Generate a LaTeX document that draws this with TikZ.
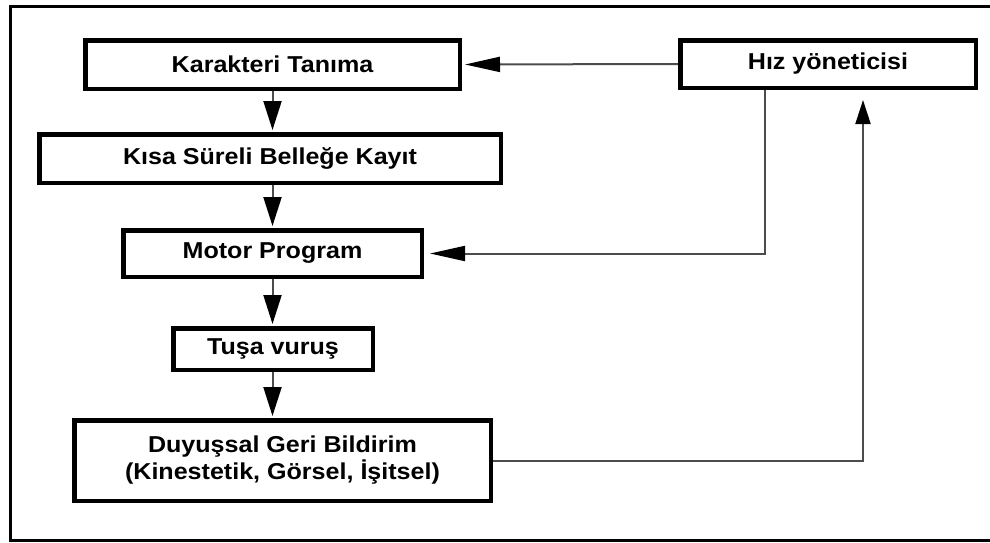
\documentclass[tikz,border=0pt]{standalone}
\usepackage{fontspec}
\setmainfont{Liberation Sans}[FakeStretch=1.09]
\usetikzlibrary{arrows.meta}
\tikzset{
  box/.style={draw=black, line width=4.5pt, fill=white, inner sep=0pt, align=center,
    font=\bfseries\fontsize{23}{27}\selectfont},
  conn/.style={draw=black!70, line width=2pt},
  downtip/.style={-{Triangle[length=29pt,width=18pt,color=black]}, shorten >=2pt},
  lefttip/.style={-{Triangle[length=35pt,width=15pt,color=black]}},
  uptip/.style={-{Triangle[length=24pt,width=15pt,color=black]}},
}
\begin{document}
\begin{tikzpicture}[x=1pt,y=-1pt]
\useasboundingbox (0,0) rectangle (990,542);
\clip (0,0) rectangle (990,542);
\draw[line width=3pt, black] (1000,6.5) -- (10,6.5) -- (10,540.5) -- (1000,540.5);

\node[box, minimum width=374.5pt, minimum height=48.5pt] (K) at (272.5,64.5) {Karakteri Tanıma};
\node[box, minimum width=461.5pt, minimum height=48.5pt] (S) at (270,158.5) {Kısa Süreli Belleğe Kayıt};
\node[box, minimum width=298.5pt, minimum height=46.5pt] (M) at (272.5,253.5) {Motor Program};
\node[box, minimum width=199.5pt, minimum height=41.5pt] (T) at (273,349) {Tuşa vuruş};
\node[box, minimum width=416.5pt, minimum height=80.5pt] (D) at (282.5,460.5) {Duyuşsal Geri Bildirim\\(Kinestetik, Görsel, İşitsel)};
\node[box, minimum width=295.5pt, minimum height=47.5pt] (H) at (828,64) {Hız yöneticisi};

\draw[conn, downtip] (K.south) -- (K.south |- S.north);
\draw[conn, downtip] (K.south |- S.south) -- (K.south |- M.north);
\draw[conn, downtip] (K.south |- M.south) -- (K.south |- T.north);
\draw[conn, downtip] (K.south |- T.south) -- (K.south |- D.north);

\draw[conn, lefttip, shorten >=3pt] (H.west) -- (K.east);
\draw[conn, lefttip, shorten >=6pt] ([xshift=-63pt]H.south) |- (M.east);
\draw[conn, uptip, shorten >=10pt] (D.east) -| ([xshift=35pt]H.south);
\end{tikzpicture}
\end{document}
